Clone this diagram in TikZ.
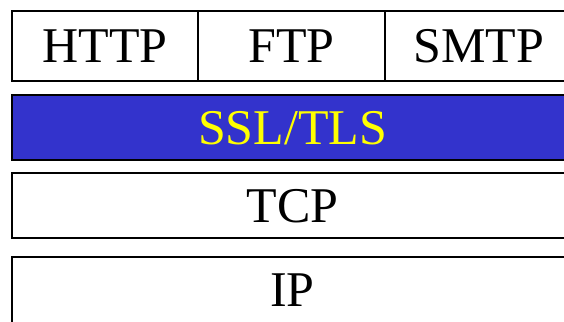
\documentclass[tikz,border=0pt]{standalone}
\usepackage{fontspec}
\setmainfont{Liberation Serif}
\definecolor{sslblue}{HTML}{3333CC}
\definecolor{sslyellow}{HTML}{FFFF00}
\tikzset{
  layer/.style={draw=black, line width=1.6pt, inner sep=0pt, outer sep=0pt,
    font=\fontsize{50}{60}\selectfont, text height=33pt, text depth=0pt,
    anchor=center},
}
\begin{document}
\begin{tikzpicture}[x=1pt,y=-1pt]
\useasboundingbox (0,0) rectangle (564,321);
\clip (0,0) rectangle (564,321);
\fill[white] (0,0) rectangle (564,321);
% top row
\node[layer, minimum width=186pt, minimum height=70pt] (http) at (105,46) {HTTP};
\node[layer, minimum width=187pt, minimum height=70pt] (ftp) at (291.5,46) {FTP};
\node[layer, minimum width=188pt, minimum height=70pt] (smtp) at (479,46) {SMTP};
% SSL/TLS
\node[layer, fill=sslblue, text=sslyellow, minimum width=561pt, minimum height=65pt] (ssl) at (292.5,127.5) {SSL/TLS};
% TCP
\node[layer, minimum width=561pt, minimum height=65pt] (tcp) at (292.5,205.5) {TCP};
% IP
\node[layer, minimum width=561pt, minimum height=66pt] (ip) at (292.5,290) {IP};
\end{tikzpicture}
\end{document}
